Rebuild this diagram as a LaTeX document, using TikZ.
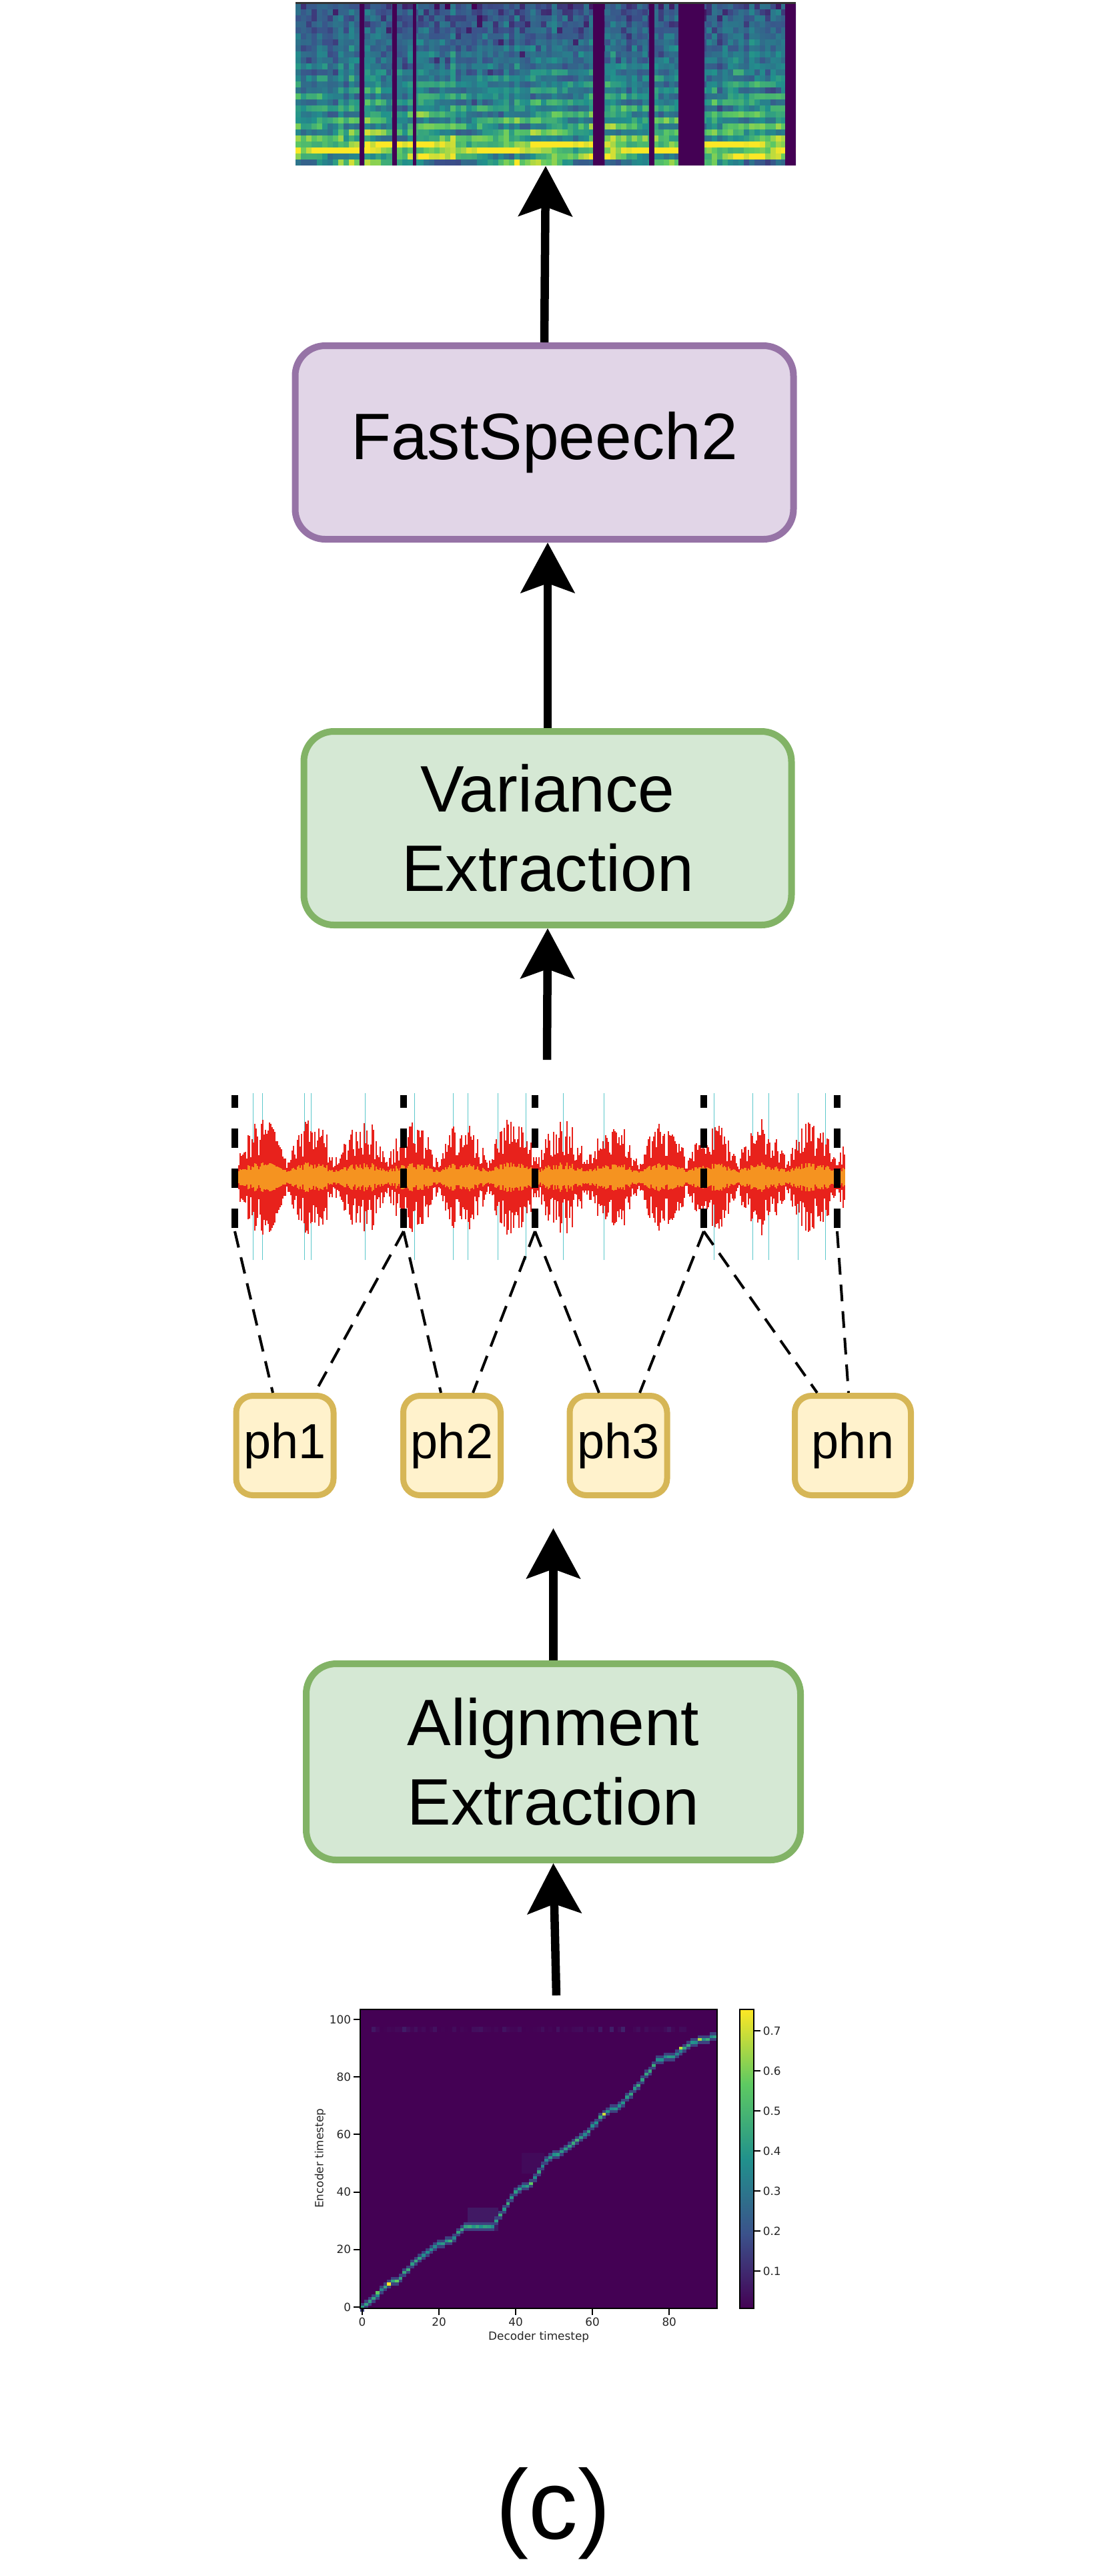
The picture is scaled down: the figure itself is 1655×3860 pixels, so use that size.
\documentclass[tikz,border=0pt]{standalone}
\usepackage{fontspec}
\setmainfont{Liberation Sans}
\newfontfamily\plotfont{DejaVu Sans}
\usetikzlibrary{arrows.meta}

\definecolor{virA}{HTML}{440154}
\definecolor{virB}{HTML}{3B528B}
\definecolor{virC}{HTML}{21918C}
\definecolor{virD}{HTML}{5EC962}
\definecolor{virE}{HTML}{FDE725}
\definecolor{fastfill}{HTML}{E1D5E7}
\definecolor{fastline}{HTML}{9673A6}
\definecolor{greenfill}{HTML}{D5E8D4}
\definecolor{greenline}{HTML}{82B366}
\definecolor{phfill}{HTML}{FFF2CC}
\definecolor{phline}{HTML}{D6B656}
\definecolor{wavered}{HTML}{E8221C}
\definecolor{waveorange}{HTML}{F59320}
\definecolor{waveteal}{HTML}{5CC8CC}

% viridis lookup, value in [0,1] -> colour vircol
\newcommand{\setvir}[1]{%
	\pgfmathsetmacro{\vv}{max(0,min(0.999,#1))}%
	\pgfmathtruncatemacro{\vseg}{floor(\vv*4)}%
	\pgfmathtruncatemacro{\vp}{(\vv*4-\vseg)*100}%
	\ifcase\vseg\relax
		\colorlet{vircol}{virB!\vp!virA}%
	\or \colorlet{vircol}{virC!\vp!virB}%
	\or \colorlet{vircol}{virD!\vp!virC}%
	\else \colorlet{vircol}{virE!\vp!virD}%
	\fi}

\begin{document}
\begin{tikzpicture}[x=0.1mm, y=-0.1mm,
	blockbox/.style={draw, line width=1mm, rounded corners=4.5mm, inner sep=0pt, align=center, minimum height=29mm, font=\fontsize{28}{34}\selectfont},
	fastbox/.style={blockbox, fill=fastfill, draw=fastline},
	extractbox/.style={blockbox, fill=greenfill, draw=greenline},
	phbox/.style={draw=phline, fill=phfill, line width=0.9mm, rounded corners=2.5mm, inner sep=0pt, minimum width=14.6mm, minimum height=14.9mm, font=\fontsize{21}{25}\selectfont},
	bigarrow/.style={line width=1.25mm, -{Stealth[length=7.5mm, width=8mm, inset=1.4mm]}},
	bounddash/.style={line width=1mm, dash pattern=on 2.9mm off 3.1mm},
	linkdash/.style={line width=0.4mm, dash pattern=on 2.5mm off 1.5mm},
	ticklabel/.style={font=\plotfont\fontsize{4.8}{5.8}\selectfont, text=black!85, inner sep=0.3mm}
]
	\useasboundingbox (0,0) rectangle (1655,3860);

	% mel spectrogram
	\node[minimum width=75mm, minimum height=24.3mm, inner sep=0pt] (spec) at (818,126.5) {};
	\pgfmathsetseed{7}
	\begin{scope}
	\clip (443,5) rectangle (1193,248);
	\foreach \c in {0,...,93} {
		\pgfmathsetmacro{\ec}{0.78+0.3*rnd}
		\foreach \r in {0,...,26} {
			\pgfmathsetmacro{\rowt}{\r/26}
			\pgfmathsetmacro{\val}{\ec*(0.36+0.08*\rowt+0.6*\rowt^1.5*(0.5+0.5*sin(\r*150+\c*12))) + 0.25*(equal(\r,23)+equal(\r,24)) - 0.16*equal(\r,26) - 0.3*(1-\rowt)*rnd*rnd + 0.16*(rnd-0.5)}
			\setvir{\val}
			\fill[vircol] ({443+8*\c},{5+9*\r}) rectangle ({451+8*\c},{14+9*\r});
		}
	}
	\foreach \xa/\xb in {539/546, 588/595, 619/624, 889/906, 973/981, 1017/1056, 1177/1193}
		\fill[virA] (\xa,5) rectangle (\xb,248);
	\end{scope}
	\draw[line width=0.3mm, black!80] (443,4) -- (1193,4);

	% blocks
	\node[fastbox, minimum width=74.7mm] (fast) at (816,663) {FastSpeech2};
	\node[extractbox, minimum width=73.1mm] (var) at (821,1241) {Variance\\Extraction};
	\node[extractbox, minimum width=74.1mm, minimum height=29.4mm] (align) at (829.5,2640) {Alignment\\Extraction};

	% speech waveform
	\foreach \x in {379,393,456,466,547,621,679,701,746,788,844,905,1070,1128,1152,1196,1237}
		\draw[waveteal, line width=0.1mm] (\x,1638) -- (\x,1888);
	\pgfmathsetseed{3}
	\foreach \x in {356,358,...,1266} {
		\pgfmathsetmacro{\amp}{90*(0.3+0.7*abs(sin(2.4*(\x-356))))*(0.35+0.65*rnd)}
		\draw[wavered, line width=0.2mm] (\x,{1764-\amp}) -- (\x,{1764+\amp});
		\draw[waveorange, line width=0.2mm] (\x,{1759-0.2*\amp}) -- (\x,{1769+0.2*\amp});
	}
	\foreach \i/\x in {1/352, 2/605, 3/802, 4/1055, 5/1255} {
		\draw[bounddash] (\x,1840) -- (\x,1641);
		\coordinate (bd\i) at (\x,1845);
	}

	% phonemes
	\node[phbox] (ph1) at (427,2166) {ph1};
	\node[phbox] (ph2) at (677.5,2166) {ph2};
	\node[phbox] (ph3) at (927,2166) {ph3};
	\node[phbox, minimum width=17.4mm] (phn) at (1278.5,2166) {phn};

	\draw[linkdash] (bd1) -- ([xshift=-1.8mm]ph1.north);
	\draw[linkdash] (bd2) -- ([xshift=4.5mm]ph1.north);
	\draw[linkdash] (bd2) -- ([xshift=-1.65mm]ph2.north);
	\draw[linkdash] (bd3) -- ([xshift=3.15mm]ph2.north);
	\draw[linkdash] (bd3) -- ([xshift=-2.9mm]ph3.north);
	\draw[linkdash] (bd4) -- ([xshift=3.2mm]ph3.north);
	\draw[linkdash] (bd4) -- ([xshift=-5.35mm]phn.north);
	\draw[linkdash] (bd5) -- ([xshift=-0.65mm]phn.north);

	% attention map
	\node[minimum width=53.5mm, minimum height=44.9mm, inner sep=0pt] (attn) at (807.5,3234.5) {};
	\begin{scope}[shift={(543,3457)}, x=0.5753mm, y=0.431mm]
		\fill[virA] (-0.5,-0.5) rectangle (92.5,103.5);
		\pgfmathsetseed{11}
		\foreach \u in {3,...,84} {
			\pgfmathsetmacro{\op}{0.45*rnd*rnd}
			\fill[virB, opacity=\op] (\u-0.5,95.5) rectangle (\u+0.5,97.5);
		}
		\fill[virB, opacity=0.3] (27.5,26.5) rectangle (35.5,34.5);
		\fill[virB, opacity=0.12] (41.5,46.5) rectangle (47.5,53.5);
		\foreach \ua/\va/\ub/\vb in {0/0/3/3, 3/3/7/8, 7/8/10/10, 10/10/13/15, 13/15/16/18, 16/18/20/22, 20/22/23/23, 23/23/26/27, 26/27/28/28, 28/28/34/28, 34/28/40/40, 40/40/44/43, 44/43/48/51, 48/51/52/54, 52/54/58/60, 58/60/63/67, 63/67/68/71, 68/71/72/77, 72/77/77/86, 77/86/81/87, 81/87/86/92, 86/92/90/93, 90/93/92/94} {
			\foreach \u in {\ua,...,\ub} {
				\pgfmathtruncatemacro{\v}{round(\va+(\vb-\va)*(\u-\ua)/(\ub-\ua))}
				\fill[virB!80!virA] (\u-0.5,\v-1.5) rectangle (\u+0.5,\v+1.5);
				\setvir{0.45+0.17*rnd}
				\fill[vircol] (\u-0.5,\v-0.5) rectangle (\u+0.5,\v+0.5);
			}
		}
		\foreach \u/\v/\col in {4/5/virD, 7/8/virE, 9/9/virD, 44/43/virD, 56/58/virD!60!virC, 63/67/virE!70!virD, 83/90/virD!40!virE, 88/93/virD!50!virE}
			\fill[\col] (\u-0.5,\v-0.5) rectangle (\u+0.5,\v+0.5);
		\draw[line width=0.25mm] (-0.5,-0.5) rectangle (92.5,103.5);

		\foreach \u in {0,20,40,60,80}
			\draw[line width=0.2mm] (\u,-0.5) -- ++(0,-2.3) node[below, ticklabel] {\u};
		\foreach \v in {0,20,40,60,80,100}
			\draw[line width=0.2mm] (-0.5,\v) -- ++(-1.74,0) node[left, ticklabel] {\v};
		\node[ticklabel] (xlab) at (46,-10.3) {Decoder timestep};
		\node[ticklabel, rotate=90] (ylab) at (-10.95,51.7) {Encoder timestep};

		% colour bar
		\shade[bottom color=virA, top color=virB] (98.4,-0.5) rectangle (102,25.5);
		\shade[bottom color=virB, top color=virC] (98.4,25.5) rectangle (102,51.5);
		\shade[bottom color=virC, top color=virD] (98.4,51.5) rectangle (102,77.5);
		\shade[bottom color=virD, top color=virE] (98.4,77.5) rectangle (102,103.5);
		\draw[line width=0.25mm] (98.4,-0.5) rectangle (102,103.5);
		\foreach \k in {1,...,7} {
			\pgfmathsetmacro{\cv}{13.92*\k-1.39}
			\draw[line width=0.2mm] (102,\cv) -- ++(1.74,0) node[right, ticklabel] {0.\k};
		}
	\end{scope}

	% arrows
	\coordinate (wavetop) at (820,1588);
	\coordinate (phrow) at (829.5,2290);
	\coordinate (attntop) at (834,2990);
	\draw[bigarrow] (fast.north) -- (spec.south);
	\draw[bigarrow] (var.north) -- (var.north |- fast.south);
	\draw[bigarrow] (wavetop) -- (var.south);
	\draw[bigarrow] (align.north) -- (phrow);
	\draw[bigarrow] (attntop) -- (align.south);

	\node[font=\fontsize{42}{50}\selectfont, inner sep=0pt] (caption) at (829.5,3766) {(c)};
\end{tikzpicture}
\end{document}
